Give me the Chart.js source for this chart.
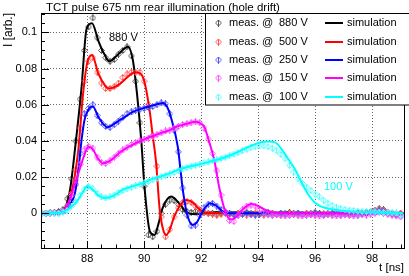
<!DOCTYPE html>
<html>
<head>
<meta charset="utf-8">
<script src="https://cdn.jsdelivr.net/npm/chart.js@4"></script>
<style>
  body { margin: 0; background: #fff; }
  canvas { display: block; }
</style>
</head>
<body>
<canvas id="pulseChart" width="409" height="276"></canvas>
<script>
// TCT pulses, measured (markers) and simulated (lines), one pair per bias voltage
const voltages = ["880 V", "500 V", "250 V", "150 V", "100 V"];
const lineColors = ["#000000", "#ff0000", "#0000ff", "#ff00ff", "#00ffff"];
const markerColors = ["#555555", "#ff5555", "#5555ff", "#ff55ff", "#55ffff"];

const xTickVals = [88, 90, 92, 94, 96, 98];
const xTickLabels = ["88", "90", "92", "94", "96", "98"];
const yTickVals = [0, 0.02, 0.04, 0.06, 0.08, 0.1];
const yTickLabels = ["0", "0.02", "0.04", "0.06", "0.08", "0.1"];

// measured samples: t = 86.4 ns + i * 0.15 ns
const measT0 = 86.4;
const measDt = 0.15;

const meas880 = [
  0, 0, 0.0003, 0.0005, 0.001, 0.002, 0.008, 0.019, 0.04, 0.063,
  0.09, 0.103, 0.108, 0.097, 0.09, 0.086, 0.084, 0.085, 0.088, 0.09,
  0.092, 0.087, 0.073, 0.05, 0.015, -0.012, -0.013, -0.01, 0, 0.005,
  0.0073, 0.007, 0.005, 0.002, 0.001, 0.0005, 0.001, 0.0005, 0.0005, 0,
  0, -0.0005, 0, 0.0005, 0, -0.0005, 0, 0, 0.0005, 0,
  -0.0005, 0, 0, 0.0005, 0, -0.0005, 0, 0, 0.0005, 0,
  0, -0.0005, 0, 0, 0.0005, 0, -0.0005, 0, 0, 0.0005,
  0, 0, -0.0005, 0, 0.0005, 0, 0, 0.0008, 0.0015, 0.0025,
  0.002, 0.0005, 0, -0.0005, 0
];
const meas500 = [
  0, 0, 0, 0.0003, 0.0005, 0.001, 0.004, 0.011, 0.024, 0.047,
  0.073, 0.084, 0.086, 0.078, 0.072, 0.069, 0.069, 0.07, 0.072, 0.075,
  0.077, 0.078, 0.078, 0.078, 0.073, 0.06, 0.043, 0.026, -0.002, -0.013,
  -0.009, -0.002, 0.003, 0.006, 0.0065, 0.006, 0.004, 0.002, 0.0005, 0,
  -0.0005, -0.001, -0.0005, 0, -0.0005, -0.001, 0, -0.0005, -0.001, -0.0005,
  0, -0.0005, -0.001, -0.0005, 0, -0.0005, -0.001, -0.0005, 0, -0.0005,
  -0.001, -0.0005, 0, -0.0005, -0.001, -0.0005, 0, -0.0005, -0.001, -0.0005,
  0, -0.0005, -0.001, -0.0005, 0, 0, 0.0005, 0.001, 0.0015, 0.002,
  0.0015, 0.0005, 0, -0.0005, 0
];
const meas250 = [
  0, 0, 0, 0, 0.0005, 0.001, 0.003, 0.007, 0.016, 0.033,
  0.055, 0.058, 0.06, 0.054, 0.05, 0.048, 0.0475, 0.049, 0.051, 0.053,
  0.055, 0.056, 0.057, 0.0575, 0.058, 0.0585, 0.059, 0.06, 0.061, 0.0605,
  0.055, 0.046, 0.034, 0.014, -0.001, -0.007, -0.0065, -0.001, 0.003, 0.005,
  0.0055, 0.004, 0.002, 0.0005, 0, -0.0005, -0.001, -0.0005, 0, -0.0005,
  -0.001, -0.0005, 0, -0.0005, -0.001, -0.0005, 0, -0.0005, -0.001, -0.0005,
  0, -0.0005, -0.001, -0.0005, 0, -0.0005, -0.001, -0.0005, 0, -0.0005,
  -0.001, -0.0005, 0, -0.0005, -0.001, -0.0005, 0, 0.0005, 0.001, 0.0015,
  0.001, 0, -0.0005, -0.001, -0.0015
];
const meas150 = [
  0, 0, 0, 0, 0, 0.001, 0.004, 0.01, 0.018, 0.027,
  0.035, 0.037, 0.036, 0.031, 0.028, 0.0275, 0.029, 0.031, 0.033, 0.035,
  0.0365, 0.038, 0.039, 0.04, 0.041, 0.0415, 0.0425, 0.0435, 0.0445, 0.0455,
  0.046, 0.047, 0.048, 0.049, 0.0495, 0.05, 0.0505, 0.05, 0.047, 0.041,
  0.033, 0.0235, 0.01, 0.001, -0.004, -0.0045, -0.001, 0.002, 0.004, 0.0045,
  0.004, 0.002, 0.0005, -0.0005, -0.001, -0.0005, -0.001, -0.0015, -0.001, -0.0005,
  -0.001, -0.0015, -0.001, -0.0005, -0.001, -0.0015, -0.001, -0.0005, -0.001, -0.0015,
  -0.001, -0.0005, -0.001, -0.0015, -0.001, -0.0005, -0.001, -0.0005, 0, 0.0005,
  0, -0.0005, -0.001, -0.0015, -0.002
];
const meas100 = [
  0, 0, 0, 0, 0, 0.0005, 0.0015, 0.004, 0.0065, 0.01,
  0.013, 0.0148, 0.0135, 0.011, 0.009, 0.0085, 0.009, 0.01, 0.0115, 0.0125,
  0.0135, 0.0145, 0.0152, 0.016, 0.0168, 0.0176, 0.0185, 0.0193, 0.0202, 0.021,
  0.0218, 0.0226, 0.0235, 0.0245, 0.0253, 0.026, 0.0266, 0.0272, 0.0278, 0.0284,
  0.029, 0.0296, 0.0303, 0.031, 0.0318, 0.0327, 0.0336, 0.0345, 0.0355, 0.0362,
  0.0368, 0.0372, 0.0372, 0.0368, 0.036, 0.0345, 0.0325, 0.03, 0.0265, 0.0228,
  0.019, 0.0165, 0.0145, 0.0125, 0.0105, 0.009, 0.0072, 0.0055, 0.0042, 0.0033,
  0.0025, 0.002, 0.0017, 0.0015, 0.0012, 0.001, 0.001, 0.0008, 0.0008, 0.0005,
  0.0005, 0.0005, 0.0003, 0.0002, -0.001
];

// simulation curves, knots (t in ns, I in arb.)
const sim880T = [86.4, 87.0, 87.2, 87.4, 87.57, 87.8, 87.98, 88.17, 88.4, 88.6, 88.78, 89.1, 89.43, 89.6, 89.75, 89.9, 90.01, 90.2, 90.36, 90.5, 90.65, 90.95, 91.2, 91.45, 91.8, 92.5, 99.1];
const sim880V = [0, 0, 0.002, 0.013, 0.035, 0.069, 0.102, 0.105, 0.095, 0.088, 0.084, 0.088, 0.092, 0.085, 0.066, 0.04, 0.015, -0.01, -0.012, -0.006, 0.003, 0.0092, 0.006, 0.001, -0.0005, 0.0005, 0];
const sim500T = [86.4, 87.0, 87.2, 87.4, 87.69, 87.85, 88.0, 88.17, 88.4, 88.77, 89.1, 89.4, 89.67, 89.85, 90.01, 90.19, 90.3, 90.42, 90.54, 90.65, 90.77, 90.9, 91.05, 91.25, 91.47, 91.7, 91.95, 92.2, 99.1];
const sim500V = [0, 0, 0.002, 0.008, 0.035, 0.065, 0.083, 0.0875, 0.077, 0.069, 0.071, 0.075, 0.078, 0.0775, 0.0727, 0.057, 0.043, 0.028, 0.003, -0.008, -0.012, -0.009, -0.002, 0.004, 0.0073, 0.006, 0.002, 0, 0];
const sim250T = [86.4, 87.0, 87.2, 87.4, 87.57, 87.7, 87.8, 87.9, 88.0, 88.2, 88.4, 88.72, 89.0, 89.3, 89.6, 89.95, 90.3, 90.65, 90.8, 90.95, 91.18, 91.35, 91.5, 91.7, 91.85, 92.05, 92.32, 92.55, 92.8, 93.1, 99.1];
const sim250V = [0, 0, 0.0015, 0.005, 0.011, 0.025, 0.04, 0.051, 0.056, 0.059, 0.053, 0.0475, 0.05, 0.053, 0.056, 0.058, 0.0595, 0.061, 0.059, 0.0525, 0.0368, 0.0138, 0, -0.0065, -0.005, 0.001, 0.0055, 0.004, 0.0005, 0, 0];
const sim150T = [86.4, 87.0, 87.22, 87.4, 87.69, 87.92, 88.04, 88.2, 88.35, 88.56, 88.8, 89.1, 89.37, 89.95, 90.5, 90.89, 91.12, 91.5, 91.82, 92.0, 92.11, 92.28, 92.46, 92.63, 92.81, 93.02, 93.2, 93.45, 93.78, 94.0, 94.26, 94.6, 95.0, 99.1];
const sim150V = [0, 0, 0.0018, 0.008, 0.022, 0.033, 0.0368, 0.0355, 0.031, 0.0276, 0.029, 0.033, 0.036, 0.0405, 0.0438, 0.046, 0.0478, 0.0495, 0.0506, 0.0495, 0.0478, 0.0396, 0.0294, 0.0147, 0.0028, -0.0035, -0.0025, 0.002, 0.0051, 0.004, 0.0018, 0.0003, 0, 0];
const sim100T = [86.4, 87.0, 87.2, 87.4, 87.63, 87.86, 88.0, 88.2, 88.4, 88.62, 88.9, 89.2, 89.6, 89.95, 90.19, 90.8, 91.35, 92.0, 92.52, 93.1, 93.68, 94.03, 94.35, 94.6, 94.84, 95.1, 95.31, 95.54, 95.77, 96.0, 96.2, 96.59, 97.2, 98.0, 99.1];
const sim100V = [0, 0, 0.001, 0.003, 0.0064, 0.012, 0.0151, 0.013, 0.0098, 0.0085, 0.0095, 0.0125, 0.015, 0.0166, 0.0184, 0.0215, 0.0249, 0.0273, 0.0294, 0.0325, 0.0368, 0.039, 0.0397, 0.0392, 0.035, 0.029, 0.0239, 0.0166, 0.0101, 0.0058, 0.0038, 0.0022, 0.001, 0.0005, 0];

const measSets = [meas880, meas500, meas250, meas150, meas100];
const simTimes = [sim880T, sim500T, sim250T, sim150T, sim100T];
const simVals = [sim880V, sim500V, sim250V, sim150V, sim100V];

const xMin = 86.38, xMax = 99.12;
const yMin = -0.0192, yMax = 0.1107;

const FONT = '"Liberation Sans", Arial, Helvetica, sans-serif';
Chart.defaults.font.family = FONT;
Chart.defaults.font.size = 11;
Chart.defaults.color = "#000";

// open diamond with a vertical stroke, like the ROOT marker
function makeMarker(color) {
  const c = document.createElement("canvas");
  c.width = 7;
  c.height = 7;
  const g = c.getContext("2d");
  g.strokeStyle = color;
  g.lineWidth = 1;
  g.beginPath();
  g.moveTo(3.5, 0.5);
  g.lineTo(6.5, 3.5);
  g.lineTo(3.5, 6.5);
  g.lineTo(0.5, 3.5);
  g.closePath();
  g.moveTo(3.5, 0);
  g.lineTo(3.5, 7);
  g.stroke();
  return c;
}
const markers = markerColors.map(makeMarker);

const datasets = [];
voltages.forEach((v, k) => {
  datasets.push({
    label: "meas. @ " + v,
    data: measSets[k].map((y, i) => ({ x: +(measT0 + i * measDt).toFixed(2), y: y })),
    showLine: false,
    pointStyle: markers[k],
    pointRadius: 3,
    order: 20 - 2 * k + 1,
  });
  datasets.push({
    label: "simulation",
    data: simTimes[k].map((t, i) => ({ x: t, y: simVals[k][i] })),
    borderColor: lineColors[k],
    borderWidth: 2,
    pointRadius: 0,
    cubicInterpolationMode: "monotone",
    order: 20 - 2 * k,
  });
});

function fontStr(size) {
  return size + "px " + FONT;
}

const rootStyle = {
  id: "rootStyle",
  afterDatasetsDraw(chart) {
    const { ctx, chartArea: a, scales } = chart;
    const xs = scales.x, ys = scales.y;
    ctx.save();
    ctx.strokeStyle = "#000";
    ctx.lineWidth = 1;
    ctx.beginPath();
    // x ticks, pointing into the frame
    for (let t = 86.5; t <= xMax; t += 0.5) {
      const px = Math.round(xs.getPixelForValue(t)) + 0.5;
      const len = Math.abs(t % 2) < 1e-6 ? 7 : 3.5;
      ctx.moveTo(px, a.bottom);
      ctx.lineTo(px, a.bottom - len);
    }
    // y ticks
    for (let i = -3; i <= 22; i++) {
      const v = i * 0.005;
      if (v < yMin || v > yMax) continue;
      const py = Math.round(ys.getPixelForValue(v)) + 0.5;
      const len = i % 4 === 0 ? 8 : 4;
      ctx.moveTo(a.left, py);
      ctx.lineTo(a.left + len, py);
    }
    ctx.stroke();
    ctx.strokeRect(Math.round(a.left) + 0.5, Math.round(a.top) + 0.5,
      Math.round(a.right - a.left), Math.round(a.bottom - a.top));
    ctx.restore();
  },
  afterDraw(chart) {
    const { ctx, chartArea: a } = chart;
    ctx.save();
    ctx.fillStyle = "#000";
    ctx.textBaseline = "middle";

    ctx.font = fontStr(11.5);
    ctx.textAlign = "left";
    ctx.fillText("TCT pulse 675 nm rear illumination (hole drift)", 46, 8);

    ctx.textAlign = "right";
    ctx.fillText("t [ns]", a.right, 268);

    ctx.save();
    ctx.translate(8.5, a.top);
    ctx.rotate(-Math.PI / 2);
    ctx.font = fontStr(12);
    ctx.fillText("I [arb.]", 0, 0);
    ctx.restore();

    ctx.font = fontStr(11);
    ctx.textAlign = "left";
    ctx.fillStyle = lineColors[0];
    ctx.fillText(voltages[0], 109, 38);
    ctx.fillStyle = lineColors[4];
    ctx.fillText(voltages[4], 324, 187);

    // legend box
    ctx.fillStyle = "#fff";
    ctx.fillRect(205.5, 13.5, 215, 91.5);
    ctx.strokeStyle = "#000";
    ctx.lineWidth = 1;
    ctx.strokeRect(205.5, 13.5, 215, 91.5);
    voltages.forEach((v, k) => {
      const y = 23.3 + k * 18.35;
      ctx.drawImage(markers[k], 215, Math.round(y) - 3.5);
      ctx.fillStyle = "#000";
      ctx.fillText("meas. @", 229, y);
      ctx.fillText(v, 279, y);
      ctx.strokeStyle = lineColors[k];
      ctx.lineWidth = 2;
      ctx.beginPath();
      ctx.moveTo(325, Math.round(y));
      ctx.lineTo(343, Math.round(y));
      ctx.stroke();
      ctx.fillText("simulation", 347, y);
    });
    ctx.restore();
  },
};

new Chart(document.getElementById("pulseChart"), {
  type: "line",
  data: { datasets: datasets },
  options: {
    responsive: false,
    animation: false,
    layout: { padding: { top: 13, right: 5, left: 0, bottom: 0 } },
    plugins: { legend: { display: false }, tooltip: { enabled: false } },
    scales: {
      x: {
        type: "linear",
        min: xMin,
        max: xMax,
        afterBuildTicks: (axis) => {
          axis.ticks = xTickVals.map((v) => ({ value: v }));
        },
        afterFit: (scale) => {
          scale.height = 28;
        },
        ticks: {
          autoSkip: false,
          maxRotation: 0,
          padding: 4,
          callback: (v) => xTickLabels[xTickVals.indexOf(v)],
        },
        grid: { color: "#666", drawTicks: false },
        border: { display: false, dash: [1, 2] },
      },
      y: {
        type: "linear",
        min: yMin,
        max: yMax,
        afterBuildTicks: (axis) => {
          axis.ticks = yTickVals.map((v) => ({ value: v }));
        },
        afterFit: (scale) => {
          scale.width = 41;
        },
        ticks: {
          autoSkip: false,
          padding: 4,
          callback: (v) => yTickLabels[yTickVals.indexOf(v)],
        },
        grid: { color: "#666", drawTicks: false },
        border: { display: false, dash: [1, 2] },
      },
    },
  },
  plugins: [rootStyle],
});
</script>
</body>
</html>
